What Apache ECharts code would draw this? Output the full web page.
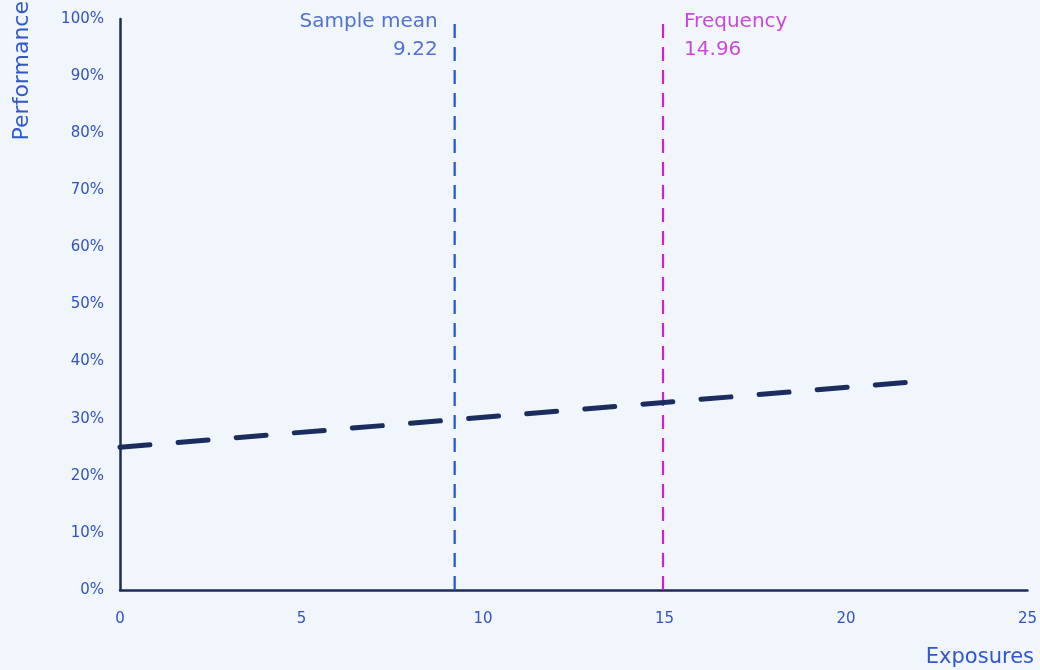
<!DOCTYPE html>
<html>
<head>
<meta charset="utf-8">
<script src="https://cdn.jsdelivr.net/npm/echarts@6/dist/echarts.min.js"></script>
<style>
html,body{margin:0;padding:0;background:#F1F5FC;}
#chart{width:1040px;height:670px;}
</style>
</head>
<body>
<div id="chart"></div>
<script>
const xTicks = [0, 5, 10, 15, 20, 25];
const trendX = [0, 21.75];
const trendY = [25.0, 36.4];
const meanValue = 9.22;
const frequencyValue = 14.96;
const meanLabel = 'Sample mean';
const freqLabel = 'Frequency';

const FONT = '"DejaVu Sans", Inter, sans-serif';
const LABEL = '#3153C6';
const AXIS = '#1F2B5B';

const chart = echarts.init(document.getElementById('chart'));
chart.setOption({
  backgroundColor: '#F1F5FC',
  animation: false,
  grid: { left: 120, right: 12, top: 19, bottom: 80 },
  xAxis: {
    type: 'value', min: xTicks[0], max: xTicks[xTicks.length - 1], interval: 5,
    axisLine: { show: true, lineStyle: { color: AXIS, width: 2.5 } },
    axisTick: { show: false },
    splitLine: { show: false },
    axisLabel: { color: LABEL, fontSize: 15, fontFamily: FONT, margin: 22 }
  },
  yAxis: {
    type: 'value', min: 0, max: 100, interval: 10,
    axisLine: { show: true, lineStyle: { color: AXIS, width: 2.5 } },
    axisTick: { show: false },
    splitLine: { show: false },
    axisLabel: { color: LABEL, fontSize: 15, fontFamily: FONT, margin: 16, formatter: '{value}%' }
  },
  graphic: [
    { type: 'text', x: 22, y: 1, rotation: Math.PI / 2,
      style: { text: 'Performance', fill: '#2F58CC', font: '22px ' + FONT, align: 'right', verticalAlign: 'middle' } },
    { type: 'text', x: 1034, y: 658,
      style: { text: 'Exposures', fill: '#2F58CC', font: '21px ' + FONT, align: 'right', verticalAlign: 'middle' } }
  ],
  series: [
    {
      type: 'line', symbol: 'none', z: 3,
      data: trendX.map((x, i) => [x, trendY[i]]),
      lineStyle: { color: '#1A2D5E', width: 5, type: [30, 28.3], cap: 'round' }
    },
    {
      type: 'line', symbol: 'none', z: 2,
      data: [[meanValue, 0], [meanValue, 100.8]],
      lineStyle: { color: '#2255D0', width: 2.2, type: [14, 9] }
    },
    {
      type: 'line', symbol: 'none', z: 2,
      data: [[frequencyValue, 0], [frequencyValue, 100.8]],
      lineStyle: { color: '#CC22CC', width: 2.2, type: [14, 9] }
    },
    {
      type: 'scatter', symbolSize: 0.1, z: 4,
      data: [[meanValue, 100]],
      label: {
        show: true, position: 'left', distance: 17, align: 'right', verticalAlign: 'top',
        offset: [0, -11], lineHeight: 28,
        formatter: meanLabel + '\n' + meanValue.toFixed(2),
        color: '#2A50C4', fontSize: 20, fontFamily: FONT
      }
    },
    {
      type: 'scatter', symbolSize: 0.1, z: 4,
      data: [[frequencyValue, 100]],
      label: {
        show: true, position: 'right', distance: 21, align: 'left', verticalAlign: 'top',
        offset: [0, -11], lineHeight: 28,
        formatter: freqLabel + '\n' + frequencyValue.toFixed(2),
        color: '#BE1ECE', fontSize: 20, fontFamily: FONT
      }
    }
  ]
});
</script>
</body>
</html>
